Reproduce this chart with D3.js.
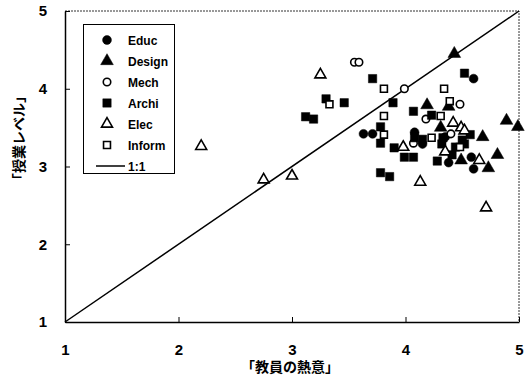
<!DOCTYPE html>
<html>
<head>
<meta charset="utf-8">
<script src="https://cdn.jsdelivr.net/npm/d3@7"></script>
<style>
  body { margin: 0; background: #fff; }
  text { font-family: "Liberation Sans", Arial, sans-serif; font-weight: bold; }
  .jp { font-family: "Noto Sans CJK JP", sans-serif; font-weight: bold; }
</style>
</head>
<body>
<div id="chart"></div>
<script>
// data: [教員の熱意, 授業レベル]
const educ = [[4.60,4.13],[3.63,3.42],[3.71,3.42],[4.08,3.44],[4.15,3.29],[4.35,3.38],[4.38,3.05],[4.58,3.12],[4.60,2.97]];
const design = [[4.43,4.45],[4.19,3.79],[4.38,3.77],[4.31,3.50],[4.68,3.38],[4.49,3.08],[4.81,3.15],[4.73,2.98],[4.89,3.59],[4.99,3.51]];
const mech = [[3.55,4.34],[3.59,4.34],[3.99,4.00],[4.48,3.80],[4.18,3.61],[4.40,3.42],[4.07,3.30]];
const archi = [[4.52,4.20],[3.71,4.13],[3.30,3.87],[3.46,3.82],[3.89,3.82],[3.12,3.64],[3.19,3.61],[4.07,3.71],[4.23,3.66],
  [3.78,3.51],[3.78,3.30],[3.90,3.24],[4.08,3.37],[4.15,3.35],[4.33,3.37],[4.32,3.29],[4.57,3.41],[4.50,3.34],[4.52,3.29],
  [4.44,3.25],[3.99,3.12],[4.07,3.12],[4.28,3.07],[4.41,3.15],[3.78,2.92],[3.86,2.87]];
const elec = [[2.20,3.26],[2.75,2.83],[3.00,2.88],[3.25,4.18],[4.42,3.56],[4.49,3.50],[4.52,3.46],[3.98,3.25],[4.35,3.19],[4.65,3.08],[4.13,2.80],[4.71,2.47]];
const inform = [[3.81,4.00],[4.34,4.00],[3.33,3.80],[4.39,3.84],[4.31,3.65],[3.81,3.65],[3.81,3.41],[4.23,3.37],[4.48,3.25]];
const oneToOne = [[1,1],[5,5]];
const ticks = [1, 2, 3, 4, 5];

const series = [
  {name: "Educ", data: educ, type: d3.symbolCircle, size: 62, open: false},
  {name: "Design", data: design, type: d3.symbolTriangle, size: 70, open: false},
  {name: "Mech", data: mech, type: d3.symbolCircle, size: 44, open: true},
  {name: "Archi", data: archi, type: d3.symbolSquare, size: 70, open: false},
  {name: "Elec", data: elec, type: d3.symbolTriangle, size: 52, open: true},
  {name: "Inform", data: inform, type: d3.symbolSquare, size: 48, open: true}
];

const width = 530, height = 377;
const plotLeft = 65, plotRight = 519, plotTop = 11, plotBottom = 322;

const svg = d3.select("#chart").append("svg")
  .attr("width", width)
  .attr("height", height);

const x = d3.scaleLinear().domain([1, 5]).range([plotLeft, plotRight]);
const y = d3.scaleLinear().domain([1, 5]).range([plotBottom, plotTop]);

// top / right frame, thin dotted
svg.append("path")
  .attr("d", `M${plotLeft},${plotTop}H${plotRight}V${plotBottom}`)
  .attr("fill", "none")
  .attr("stroke", "#333")
  .attr("stroke-width", 1)
  .attr("stroke-dasharray", "2,1");

const xAxis = svg.append("g")
  .attr("transform", `translate(0,${plotBottom})`)
  .call(d3.axisBottom(x).tickValues(ticks).tickFormat(d3.format("d"))
    .tickSizeInner(-5).tickSizeOuter(0).tickPadding(22));

const yAxis = svg.append("g")
  .attr("transform", `translate(${plotLeft},0)`)
  .call(d3.axisLeft(y).tickValues(ticks).tickFormat(d3.format("d"))
    .tickSizeInner(-5).tickSizeOuter(0).tickPadding(18));

[xAxis, yAxis].forEach(g => {
  g.select(".domain").attr("stroke", "#000").attr("stroke-width", 1.5);
  g.selectAll(".tick line").attr("stroke", "#000");
  g.selectAll(".tick text").attr("fill", "#000")
    .style("font-size", "15px").style("font-family", "'Liberation Sans', Arial, sans-serif").style("font-weight", "bold");
});

// 1:1 line
const line = d3.line().x(d => x(d[0])).y(d => y(d[1]));
svg.append("path")
  .datum(oneToOne)
  .attr("d", line)
  .attr("fill", "none")
  .attr("stroke", "#000")
  .attr("stroke-width", 1.5);

// points
series.forEach(s => {
  svg.append("g")
    .selectAll("path")
    .data(s.data)
    .enter()
    .append("path")
    .attr("transform", d => `translate(${x(d[0])},${y(d[1])})`)
    .attr("d", d3.symbol().type(s.type).size(s.size))
    .attr("fill", s.open ? "#fff" : "#000")
    .attr("stroke", "#000")
    .attr("stroke-width", s.open ? 1.6 : 0.5);
});

// legend
const legend = svg.append("g");
legend.append("rect")
  .attr("x", 83.5).attr("y", 24.5)
  .attr("width", 91).attr("height", 149)
  .attr("fill", "#fff")
  .attr("stroke", "#000")
  .attr("stroke-width", 1);

series.forEach((s, i) => {
  const ly = 40 + i * 21;
  legend.append("path")
    .attr("transform", `translate(107,${ly})`)
    .attr("d", d3.symbol().type(s.type).size(s.size))
    .attr("fill", s.open ? "#fff" : "#000")
    .attr("stroke", "#000")
    .attr("stroke-width", s.open ? 1.6 : 0.5);
  legend.append("text")
    .attr("x", 128).attr("y", ly + 4.5)
    .style("font-size", "12px")
    .text(s.name);
});
legend.append("line")
  .attr("x1", 96).attr("x2", 125)
  .attr("y1", 166).attr("y2", 166)
  .attr("stroke", "#000").attr("stroke-width", 1.5);
legend.append("text")
  .attr("x", 128).attr("y", 170.5)
  .style("font-size", "12px")
  .text("1:1");

// axis titles
svg.append("text")
  .attr("class", "jp")
  .attr("x", 290).attr("y", 372)
  .attr("text-anchor", "middle")
  .style("font-size", "14px")
  .text("「教員の熱意」");

svg.append("text")
  .attr("class", "jp")
  .attr("transform", "translate(24,138) rotate(-90)")
  .attr("text-anchor", "middle")
  .style("font-size", "14px")
  .text("「授業レベル」");
</script>
</body>
</html>
